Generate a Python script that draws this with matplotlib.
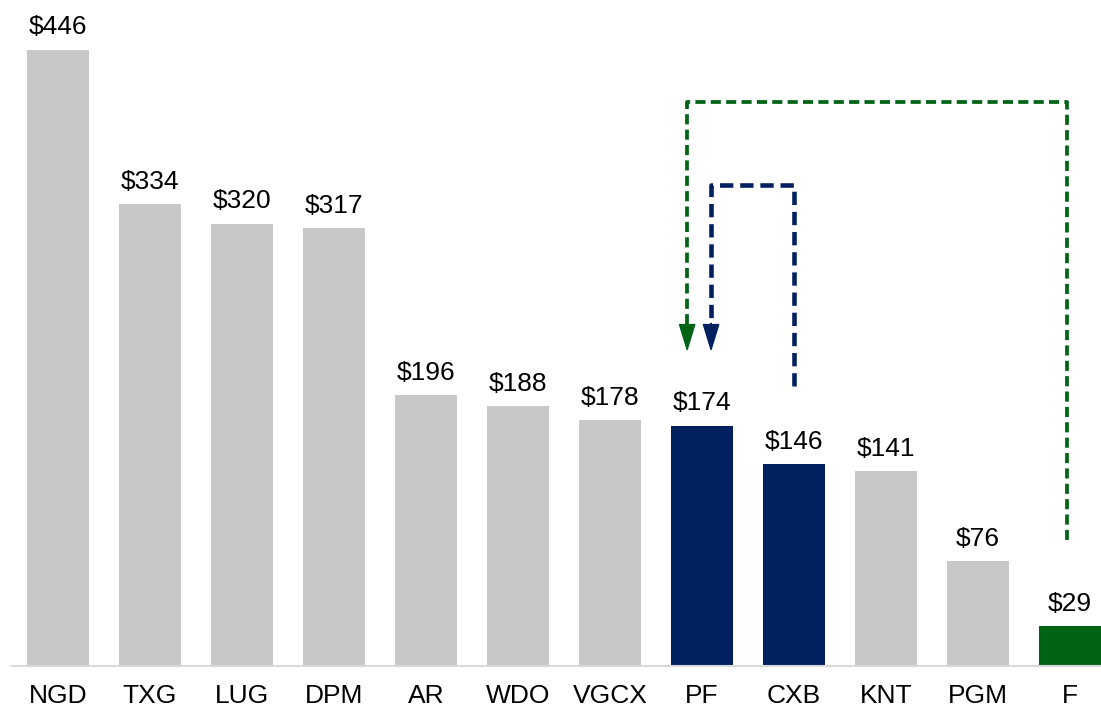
import numpy as np
import matplotlib.pyplot as plt

# Chart data
tickers = ['NGD', 'TXG', 'LUG', 'DPM', 'AR', 'WDO', 'VGCX', 'PF', 'CXB', 'KNT', 'PGM', 'F']
values = [446, 334, 320, 317, 196, 188, 178, 174, 146, 141, 76, 29]

gray = '#C8C8C8'
navy = '#002060'
green = '#006414'
bar_colors = {'PF': navy, 'CXB': navy, 'F': green}
colors = [bar_colors.get(t, gray) for t in tickers]

plt.rcParams['font.family'] = ['Liberation Sans', 'DejaVu Sans']

fig = plt.figure(figsize=(11.01, 7.07), dpi=100)
ax = fig.add_axes([0.011, 0.058, 0.989, 0.942])

x = np.arange(len(tickers))
bars = ax.bar(x, values, width=0.675, color=colors)
for xi, v in zip(x, values):
    ax.annotate(f'${v}', (xi, v), xytext=(0, 7.5), textcoords='offset points',
                ha='center', va='bottom', fontsize=19)

ax.set_xlim(-0.5, 11.34)
ax.set_ylim(0, 482)
ax.set_xticks(x)
ax.set_xticklabels(tickers, fontsize=19)
ax.tick_params(axis='x', length=0, pad=13)
ax.set_yticks([])
for s in ['top', 'left', 'right']:
    ax.spines[s].set_visible(False)
ax.spines['bottom'].set_color('#D9D9D9')
ax.spines['bottom'].set_linewidth(1.5)

# connector arrows
pf = tickers.index('PF')
cxb = tickers.index('CXB')
f = tickers.index('F')

# green: F -> PF
gx0, gx1 = f - 0.03, pf - 0.16
ax.plot([gx0, gx0, gx1, gx1], [91, 408, 408, 247], color=green, lw=2.7,
        ls=(0, (2.7, 1.4)), solid_capstyle='butt', dash_capstyle='butt')
ax.annotate('', xy=(gx1, 229), xytext=(gx1, 248),
            arrowprops=dict(facecolor=green, edgecolor=green, width=0.1,
                            headwidth=11, headlength=18))

# navy: CXB -> PF
bx0, bx1 = cxb, pf + 0.1
ax.plot([bx0, bx0, bx1, bx1], [203, 348, 348, 247], color=navy, lw=3.3,
        ls=(0, (2.9, 1.5)), solid_capstyle='butt', dash_capstyle='butt')
ax.annotate('', xy=(bx1, 229), xytext=(bx1, 248),
            arrowprops=dict(facecolor=navy, edgecolor=navy, width=0.1,
                            headwidth=11, headlength=18))

fig.savefig('out.png', dpi=100)
